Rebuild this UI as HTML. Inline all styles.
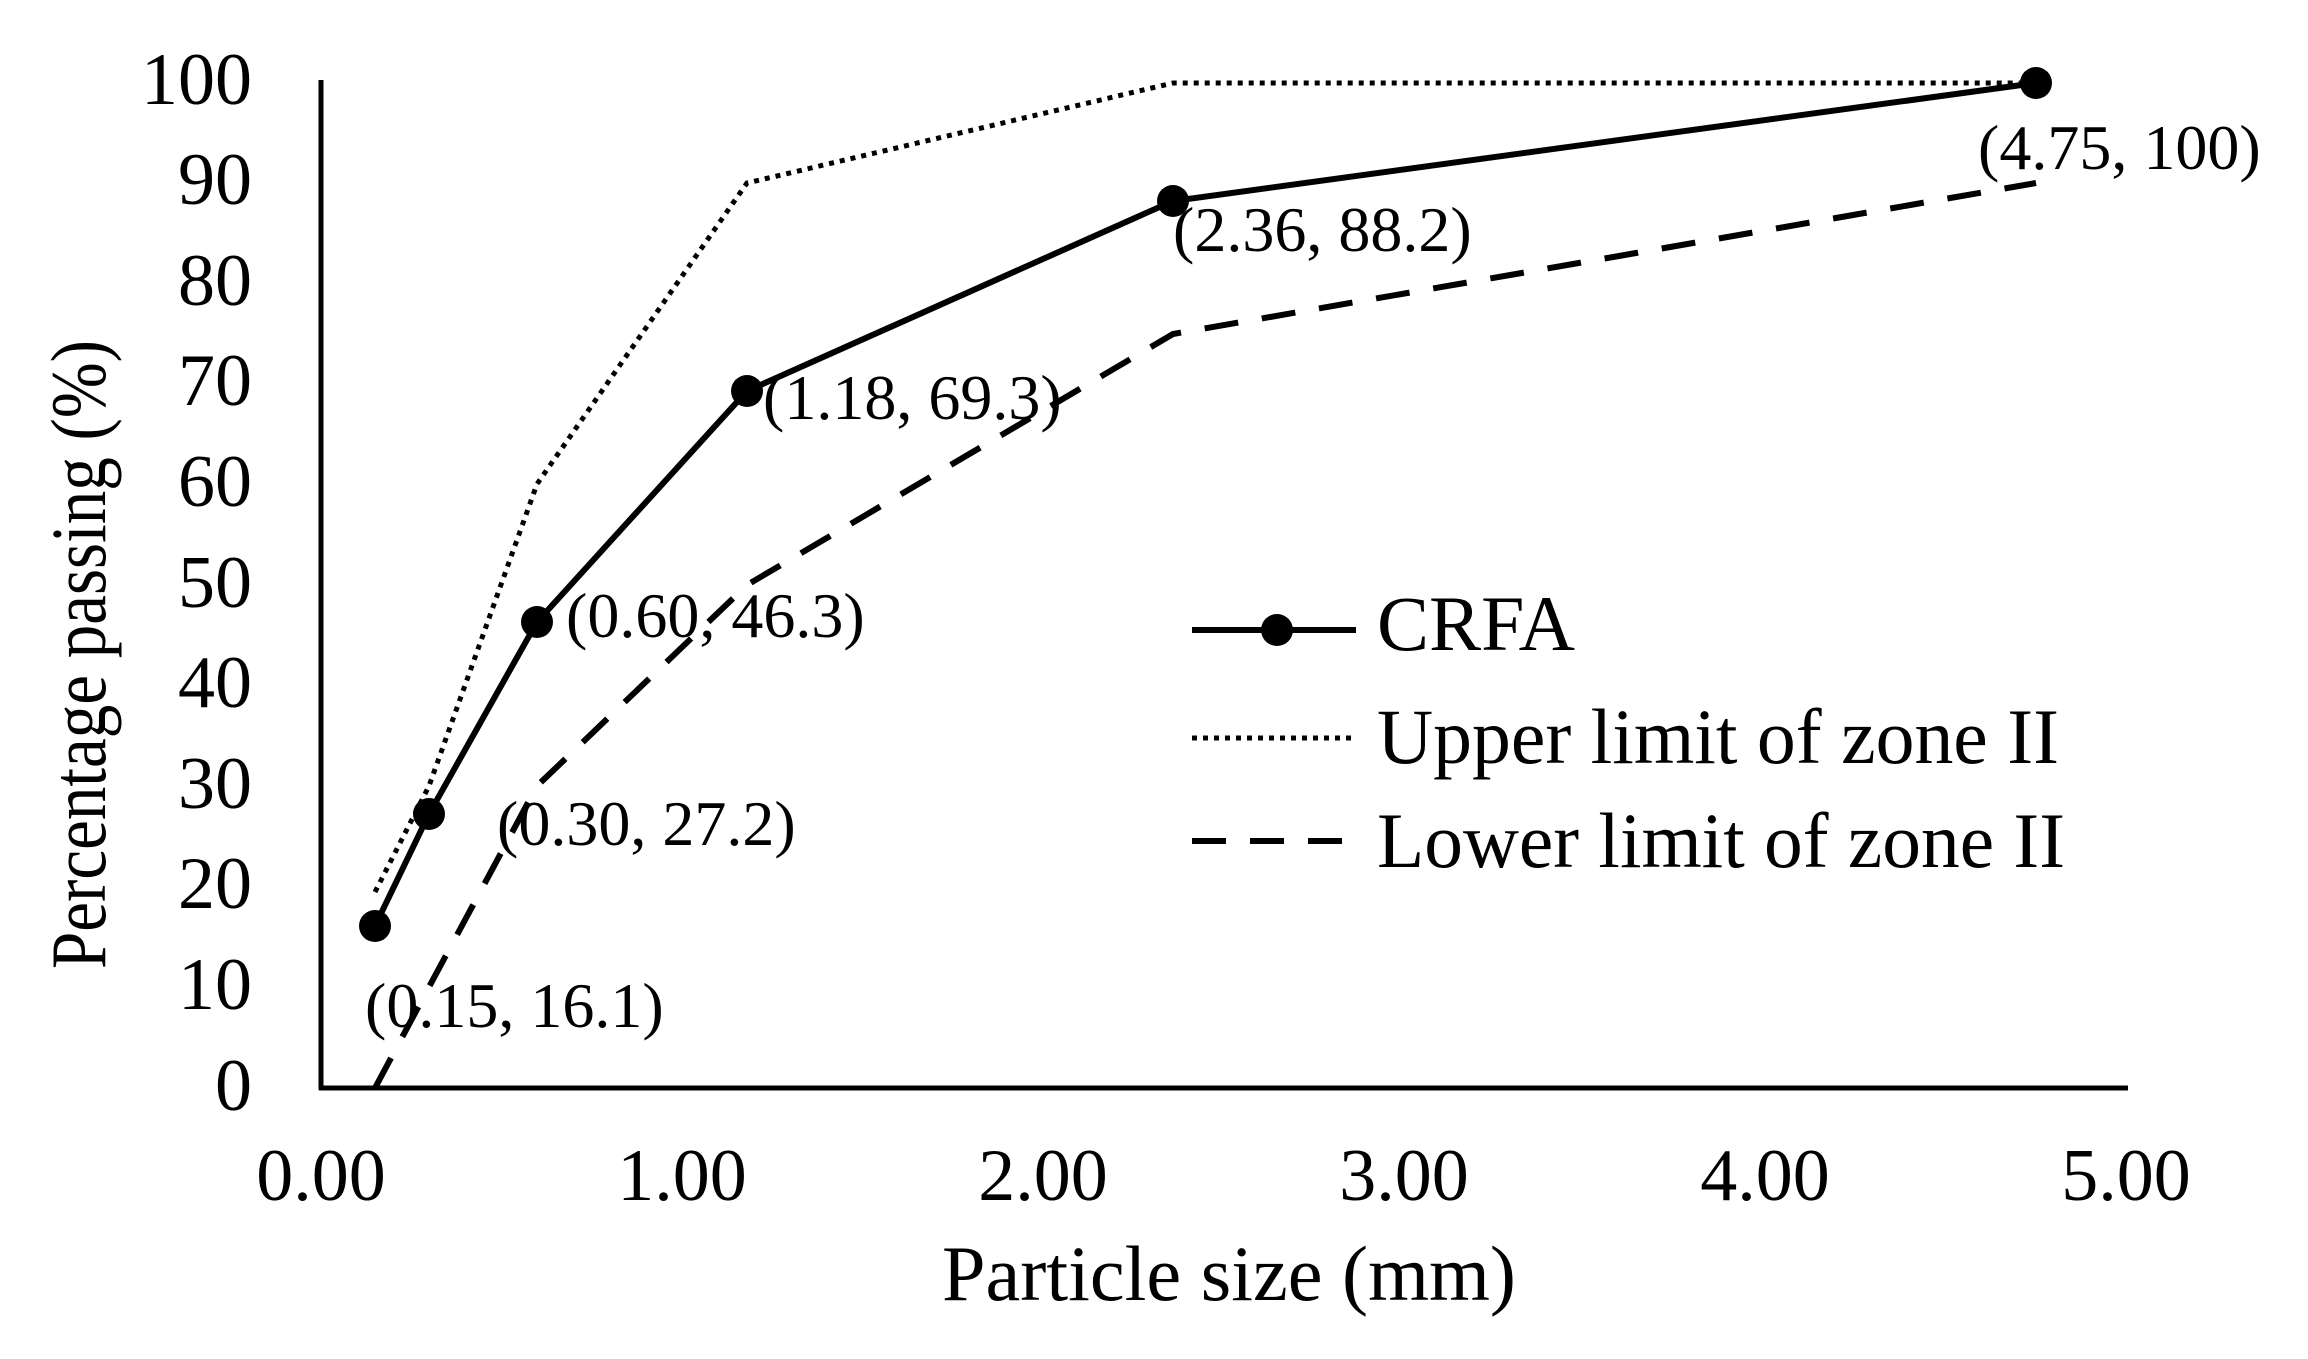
<!DOCTYPE html>
<html><head><meta charset="utf-8"><style>body{margin:0;background:#fff}svg{display:block}text{font-family:"Liberation Serif",serif;fill:#000}</style></head>
<body>
<svg width="2308" height="1359" viewBox="0 0 2308 1359" xmlns="http://www.w3.org/2000/svg">
<!-- axes -->
<line x1="321" y1="80" x2="321" y2="1090" stroke="#000" stroke-width="5"/>
<line x1="319" y1="1088" x2="2128" y2="1088" stroke="#000" stroke-width="5"/>
<g font-size="74" text-anchor="end">
<text x="252" y="1110">0</text><text x="252" y="1009">10</text><text x="252" y="908">20</text><text x="252" y="808">30</text><text x="252" y="707">40</text><text x="252" y="607">50</text><text x="252" y="506">60</text><text x="252" y="405">70</text><text x="252" y="305">80</text><text x="252" y="204">90</text><text x="252" y="104">100</text>
</g>
<g font-size="74" text-anchor="middle">
<text x="321" y="1200">0.00</text><text x="682" y="1200">1.00</text><text x="1043" y="1200">2.00</text><text x="1404" y="1200">3.00</text><text x="1765" y="1200">4.00</text><text x="2126" y="1200">5.00</text>
</g>
<text x="942" y="1300" font-size="78" textLength="574" lengthAdjust="spacingAndGlyphs">Particle size (mm)</text>
<text transform="translate(105,969) rotate(-90)" font-size="78" textLength="629" lengthAdjust="spacingAndGlyphs">Percentage passing (%)</text>
<!-- upper -->
<polyline fill="none" stroke="#000" stroke-width="5" stroke-dasharray="5 6" points="375,892 429,786 537,484 747,183 1173,83 2036,83"/>
<!-- lower -->
<polyline fill="none" stroke="#000" stroke-width="6" stroke-dasharray="34 24" points="375,1088 429,987 537,786 747,585 1173,334 2036,183"/>
<!-- CRFA -->
<polyline fill="none" stroke="#000" stroke-width="6" points="375,926 429,814 537,622 747,391 1173,201 2036,83"/>
<g fill="#000">
<circle cx="375" cy="926" r="16"/><circle cx="429" cy="814" r="16"/><circle cx="537" cy="622" r="16"/><circle cx="747" cy="391" r="16"/><circle cx="1173" cy="201" r="16"/><circle cx="2036" cy="83" r="16"/>
</g>
<g font-size="64">
<text x="365" y="1027">(0.15, 16.1)</text>
<text x="497" y="845">(0.30, 27.2)</text>
<text x="566" y="637">(0.60, 46.3)</text>
<text x="763" y="419">(1.18, 69.3)</text>
<text x="1173" y="251">(2.36, 88.2)</text>
<text x="1978" y="169">(4.75, 100)</text>
</g>
<!-- legend -->
<line x1="1192" y1="630" x2="1356" y2="630" stroke="#000" stroke-width="6"/>
<circle cx="1277" cy="630" r="16" fill="#000"/>
<line x1="1192" y1="738" x2="1356" y2="738" stroke="#000" stroke-width="5" stroke-dasharray="5 6"/>
<line x1="1192" y1="841" x2="1356" y2="841" stroke="#000" stroke-width="6" stroke-dasharray="34 24"/>
<g font-size="78">
<text x="1377" y="650">CRFA</text>
<text x="1377" y="763" textLength="682" lengthAdjust="spacingAndGlyphs">Upper limit of zone II</text>
<text x="1377" y="867" textLength="688" lengthAdjust="spacingAndGlyphs">Lower limit of zone II</text>
</g>
</svg>
</body></html>
